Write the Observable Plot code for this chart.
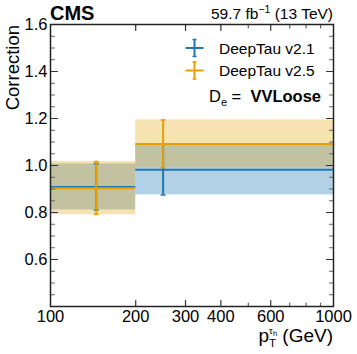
<!DOCTYPE html>
<html><head><meta charset="utf-8">
<script src="https://cdn.jsdelivr.net/npm/d3@7"></script>
<script src="https://cdn.jsdelivr.net/npm/@observablehq/plot@0.6"></script>
<style>
body{margin:0;background:#fff}
#c{position:relative;width:357px;height:354px;font-family:"Liberation Sans",Arial,sans-serif}
#c svg.ov{position:absolute;left:0;top:0;pointer-events:none}
</style></head>
<body><div id="c"></div>
<script>
// Data
const binLo = [100, 200];
const binHi = [200, 1000];
const xMean = [145, 250];
const v21 = [0.908, 0.982];
const v21Lo = [0.811, 0.875];
const v21Hi = [1.007, 1.090];
const v25 = [0.903, 1.092];
const v25Lo = [0.791, 0.990];
const v25Hi = [1.017, 1.194];
const seriesNames = ["DeepTau v2.1", "DeepTau v2.5"];
const colors = ["#1f77b4", "#e69f00"];
const xTickLabels = [100, 200, 300, 400, 600, 1000];
const xMinor = [500, 700, 800, 900];
const yMajor = [0.6, 0.8, 1.0, 1.2, 1.4, 1.6];
const yMinor = [0.45,0.5,0.55,0.65,0.7,0.75,0.85,0.9,0.95,1.05,1.1,1.15,1.25,1.3,1.35,1.45,1.5,1.55];

const rows = (v, lo, hi) => binLo.map((b, i) => ({x1: b, x2: binHi[i], xc: xMean[i], v: v[i], lo: lo[i], hi: hi[i]}));
const s21 = rows(v21, v21Lo, v21Hi);
const s25 = rows(v25, v25Lo, v25Hi);

const tickShape = {draw(ctx, l) { ctx.moveTo(0, 0); ctx.lineTo(0, -l); }};
const ticks = (data, anchor, rotate, len, stroke) =>
  Plot.vector(data, {
    [anchor === "left" || anchor === "right" ? "y" : "x"]: d => d,
    frameAnchor: anchor, rotate, length: len, anchor: "start", shape: tickShape,
    stroke, strokeWidth: 1.2
  });

function seriesMarks(s, color) {
  return [
    Plot.ruleY(s, {y: "v", x1: "x1", x2: "x2", stroke: color, strokeWidth: 2}),
    Plot.ruleX(s, {x: "xc", y1: "lo", y2: "hi", stroke: color, strokeWidth: 2}),
    Plot.vector(s, {x: "xc", y: "lo", length: 4, rotate: 90, anchor: "middle", shape: tickShape, stroke: color, strokeWidth: 1.5}),
    Plot.vector(s, {x: "xc", y: "hi", length: 4, rotate: 90, anchor: "middle", shape: tickShape, stroke: color, strokeWidth: 1.5})
  ];
}

const plot = Plot.plot({
  width: 357, height: 354,
  marginLeft: 50, marginRight: 24, marginTop: 24, marginBottom: 48,
  style: {fontFamily: '"Liberation Sans", Arial, sans-serif', background: "#fff"},
  x: {type: "log", domain: [100, 1000], axis: null},
  y: {domain: [0.4, 1.6], axis: null},
  marks: [
    Plot.rect(s21, {x1: "x1", x2: "x2", y1: "lo", y2: "hi", fill: colors[0], fillOpacity: 0.34}),
    Plot.rect(s25, {x1: "x1", x2: "x2", y1: "lo", y2: "hi", fill: colors[1], fillOpacity: 0.3}),
    ...seriesMarks(s21, colors[0]),
    ...seriesMarks(s25, colors[1]),
    Plot.text(yMajor, {y: d => d, frameAnchor: "left", textAnchor: "end", dx: -3, fontSize: 16.5, text: d => d3.format(".1f")(d), fill: "#000"}),
    Plot.text(xTickLabels, {x: d => d, frameAnchor: "bottom", lineAnchor: "top", dy: 4, fontSize: 16.5, text: d => String(d), fill: "#000"}),
    ticks(yMajor, "left", 90, 7, "#333"),
    ticks(yMinor, "left", 90, 4, "#666"),
    ticks(yMajor, "right", -90, 7, "#333"),
    ticks(yMinor, "right", -90, 4, "#666"),
    ticks(xTickLabels.slice(1, -1), "bottom", 0, 6, "#333"),
    ticks(xMinor, "bottom", 0, 3.5, "#666"),
    ticks(xTickLabels.slice(1, -1), "top", 180, 6, "#333"),
    ticks(xMinor, "top", 180, 3.5, "#666"),
    Plot.frame({stroke: "#222", strokeWidth: 1.5})
  ]
});
const c = document.getElementById("c");
c.appendChild(plot);

// Overlay annotations (title, luminosity, legend, labels)
const ns = "http://www.w3.org/2000/svg";
const ov = document.createElementNS(ns, "svg");
ov.setAttribute("class", "ov");
ov.setAttribute("width", 357); ov.setAttribute("height", 354);
const legendY = [48, 70.5];
let legendSvg = "";
seriesNames.forEach((n, i) => {
  const y = legendY[i], x = 194.5, col = colors[i];
  legendSvg += `<g stroke="${col}" stroke-width="2">
    <line x1="${x-9}" x2="${x+9}" y1="${y}" y2="${y}"/>
    <line x1="${x}" x2="${x}" y1="${y-8.5}" y2="${y+8.5}"/>
    <line x1="${x-2}" x2="${x+2}" y1="${y-8.5}" y2="${y-8.5}" stroke-width="1.5"/>
    <line x1="${x-2}" x2="${x+2}" y1="${y+8.5}" y2="${y+8.5}" stroke-width="1.5"/></g>
    <text x="219" y="${y+5.5}" font-size="15.5" fill="#000">${n}</text>`;
});
ov.innerHTML = `
<g font-family='"Liberation Sans", Arial, sans-serif' fill="#000">
<text x="50" y="19.5" font-size="20" font-weight="bold">CMS</text>
<text x="333" y="19" font-size="15.5" text-anchor="end">59.7 fb<tspan dy="-6" font-size="10.5">−1</tspan><tspan dy="6"> (13 TeV)</tspan></text>
${legendSvg}
<text x="321" y="101.5" font-size="16.5" text-anchor="end" style="white-space:pre">D<tspan dy="4" font-size="11">e</tspan><tspan dy="-4"> =  </tspan><tspan font-weight="bold">VVLoose</tspan></text>
<text x="333" y="342" font-size="19" text-anchor="end">p<tspan dy="4.5" font-size="11.5">T</tspan><tspan dx="-7" dy="-13" font-size="9.5">τ<tspan font-size="7.5" dy="2">h</tspan></tspan><tspan dy="6.5"> (GeV)</tspan></text>
<text transform="translate(19,25) rotate(-90)" font-size="18.5" text-anchor="end">Correction</text>
</g>`;
c.appendChild(ov);
</script>
</body></html>
